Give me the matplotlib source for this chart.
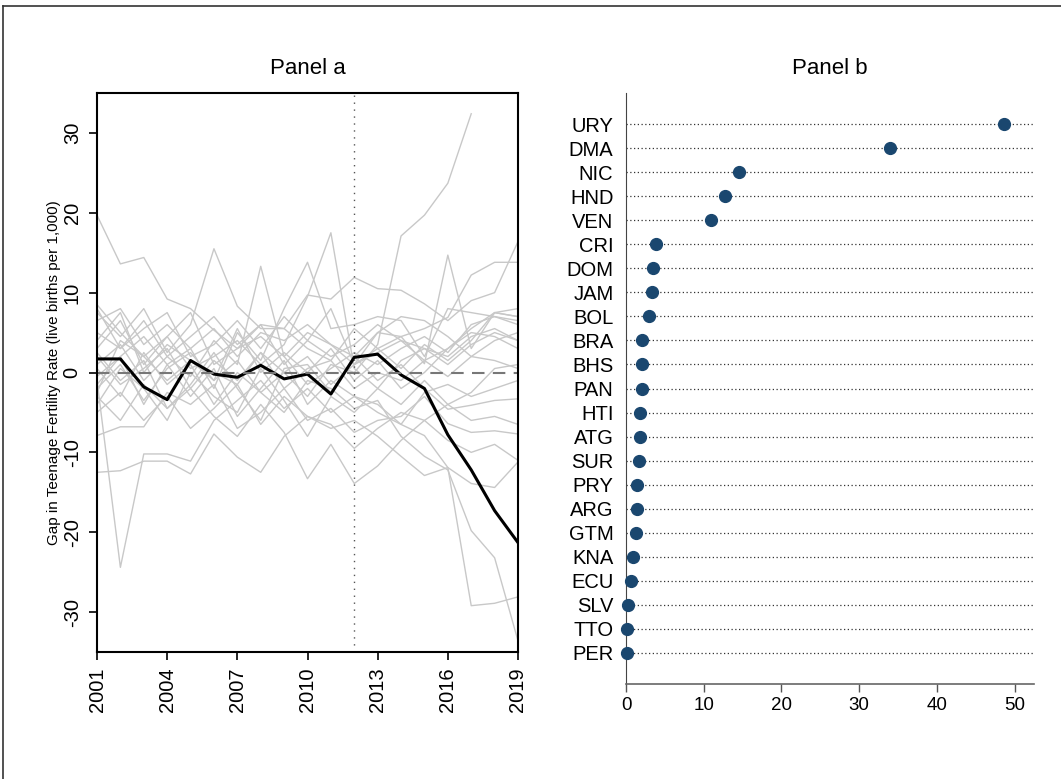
import numpy as np
import matplotlib
matplotlib.use('Agg')
import matplotlib.pyplot as plt
from matplotlib.lines import Line2D

plt.rcParams['font.family'] = ['Liberation Sans', 'DejaVu Sans']

nan = np.nan
years = list(range(2001, 2020))

# gap del pais tratado (URY)
uru_gap = [1.7, 1.7, -1.8, -3.4, 1.5, -0.2, -0.6, 0.9, -0.8, -0.2, -2.7, 1.9, 2.3, -0.3, -2.0, -7.8, -12.2, -17.3, -21.3]

# placebos
placebo_gaps = [
    [19.7, 13.6, 14.4, 9.2, 8.0, 5.3, 3.0, 4.5, 2.0, 5.0, 3.5, 1.0, 2.5, 4.0, 1.5, 3.0, 5.5, 7.5, 7.0],
    [5.0, 3.0, 6.5, 2.0, 4.5, 7.0, 3.5, 6.0, 5.5, 9.7, 9.2, 11.9, 10.5, 10.3, 8.6, 6.5, 9.0, 10.0, 16.4],
    [2.0, -1.5, 0.5, 3.0, -2.0, 1.5, -1.0, 2.5, 0.0, -3.0, 1.0, 0.0, 3.5, 17.1, 19.7, 23.7, 32.4, nan, nan],
    [-1.0, -24.4, -10.2, -10.2, -11.1, -6.0, -3.5, -1.0, -4.5, -2.0, -5.0, -3.0, -4.0, -6.5, -2.5, -1.5, -3.0, -2.0, -1.0],
    [-12.5, -12.3, -11.1, -11.1, -12.7, -7.7, -10.6, -12.5, -8.0, -5.5, -6.5, -9.5, -7.0, -5.0, -6.0, -8.5, -10.0, -9.0, -11.0],
    [3.0, 6.5, 1.0, 4.5, 0.5, 2.0, 4.0, 1.0, 3.5, 9.5, 17.5, 0.5, -2.0, 1.5, 3.0, 2.0, 4.5, 5.5, 4.0],
    [-2.0, 1.0, -3.5, 0.5, 2.5, -1.0, 1.5, -2.5, 0.0, 2.0, -1.5, 1.0, 3.0, 4.5, 1.1, 14.7, 3.0, 7.5, 8.0],
    [6.5, 8.0, 3.5, 6.0, 3.0, 5.5, 2.0, 5.0, 4.0, 6.0, 3.5, 2.0, 5.0, 4.5, 5.5, 6.9, 12.2, 13.8, 13.8],
    [-1.5, 2.0, -4.0, 1.0, -3.0, 0.5, -5.5, -2.0, 1.5, -4.0, -1.0, -3.0, -5.0, -6.5, -7.9, -11.9, -29.2, -28.9, -28.1],
    [0.5, -3.0, 2.5, -1.5, 1.0, -4.0, 0.0, -2.5, -5.0, -1.0, -2.0, -4.5, -3.5, -8.0, -10.5, -12.2, -19.8, -23.2, -33.6],
    [-5.0, -2.5, -6.0, -3.0, -7.0, -4.5, -1.5, -6.5, -3.0, -5.5, -7.0, -6.0, -8.0, -10.5, -12.9, -11.9, -13.9, -14.4, -11.2],
    [-3.0, -6.0, -1.5, -4.5, -2.0, -5.5, -8.0, -4.0, -7.5, -13.3, -9.0, -13.9, -11.7, -8.5, -6.0, -4.0, -2.5, 0.5, 1.0],
    [7.5, 4.5, 8.0, 2.5, 6.0, 15.5, 8.3, 5.5, 5.5, 3.0, 1.5, 5.5, 3.0, 0.5, 3.5, 1.5, 4.0, 7.5, 7.0],
    [1.0, 3.5, -1.0, 2.0, -0.5, 4.0, 1.0, 13.3, 2.0, -1.5, 0.5, 2.5, 1.0, 3.0, 4.5, 2.5, 6.0, 7.0, 6.5],
    [-0.5, 2.0, 4.5, 1.0, 3.0, -2.0, 5.0, 1.5, 8.0, 13.8, 5.5, 6.0, 7.0, 6.5, 2.0, 8.0, 7.5, 7.0, 6.0],
    [4.0, 7.5, 0.0, 3.5, 1.5, -1.0, 5.5, 0.0, 2.5, 0.0, 3.0, -1.0, 1.5, -2.0, 0.0, 3.0, 5.0, 4.5, 3.0],
    [-4.0, 0.5, -2.0, -6.0, 0.0, -3.0, -5.0, 0.5, -3.5, -8.0, -3.0, -5.0, -2.0, -4.0, -1.0, -4.0, -6.0, -5.5, -6.5],
    [8.0, 3.0, 5.5, 7.5, 2.0, 3.5, 6.5, 3.0, 7.0, 4.0, 8.0, 1.0, 5.0, 7.0, 6.5, 4.5, 2.0, 1.5, 0.5],
    [-7.9, -6.8, -6.8, -2.5, -4.0, -1.5, -7.0, -5.0, -2.0, -6.0, -4.5, -7.5, -6.0, -5.5, -3.0, -6.4, -7.5, -7.3, -7.7],
    [2.5, -1.0, 1.5, -4.5, -1.5, 2.5, -2.0, -6.0, 0.5, 1.0, -2.5, 2.0, -1.0, 1.0, -2.0, -4.6, -4.1, -3.5, -3.3],
    [8.5, 5.0, 2.0, 4.5, 7.5, 1.0, 3.0, 6.0, 1.0, 4.0, 2.0, 3.5, 6.0, 4.0, 3.0, 1.0, 3.5, 5.0, 4.0],
    [-2.5, 4.0, 2.0, -1.0, 1.5, 0.0, -1.5, 2.5, -2.0, 0.5, 1.5, -2.0, 0.0, -1.0, 1.5, -0.5, 2.0, 4.0, 5.0],
]

# panel b: ratio post/pre
countries = ['URY', 'DMA', 'NIC', 'HND', 'VEN', 'CRI', 'DOM', 'JAM', 'BOL', 'BRA', 'BHS', 'PAN',
             'HTI', 'ATG', 'SUR', 'PRY', 'ARG', 'GTM', 'KNA', 'ECU', 'SLV', 'TTO', 'PER']
ratios = [48.6, 34.0, 14.5, 12.8, 10.9, 3.8, 3.5, 3.35, 2.9, 2.1, 2.0, 2.0,
          1.75, 1.75, 1.7, 1.4, 1.4, 1.35, 0.9, 0.6, 0.26, 0.13, 0.08]

fig = plt.figure(figsize=(10.61, 7.79), dpi=100)

# marco de la figura
fig.add_artist(Line2D([3/1061, 1.0], [1-6/779, 1-6/779], color='#333333', lw=1.2))
fig.add_artist(Line2D([3/1061, 3/1061], [0.0, 1-6/779], color='#333333', lw=1.2))

# ---------------- Panel a
ax1 = fig.add_axes([97/1061, 1-652/779, 421/1061, 559/779])
for g in placebo_gaps:
    ax1.plot(years, g, color='#c8c8c8', lw=1.0)
ax1.plot(years, uru_gap, color='black', lw=2.2)
ax1.axhline(0, color='#777777', lw=1.5, ls=(0, (6, 4)))
ax1.axvline(2012, color='#555555', lw=1.0, ls=(0, (1, 4)))
ax1.set_xlim(2001, 2019)
ax1.set_ylim(-35, 35)
ax1.set_xticks(range(2001, 2020, 3))
ax1.set_xticklabels([str(y) for y in range(2001, 2020, 3)], rotation=90)
ax1.set_yticks(range(-30, 31, 10))
ax1.set_yticklabels([str(v) for v in range(-30, 31, 10)], rotation=90, va='center')
ax1.tick_params(labelsize=14.5, length=6, width=1.2, direction='out', pad=5)
for sp in ax1.spines.values():
    sp.set_linewidth(1.5)
ax1.set_ylabel('Gap in Teenage Fertility Rate (live births per 1,000)', fontsize=11, labelpad=1)
ax1.set_title('Panel a', fontsize=16, pad=14)

# ---------------- Panel b
ax2 = fig.add_axes([626/1061, 1-684/779, 408/1061, 591/779])
pos = np.arange(len(countries))
ax2.hlines(pos, 0, 52.5, colors='#333333', lw=0.9, linestyles=(0, (1, 2)), zorder=1)
ax2.plot(ratios, pos, 'o', color='#1a476f', ms=8.5, zorder=3, clip_on=False)
ax2.set_xlim(0, 52.5)
ax2.set_ylim(len(countries) - 1 + 1.3, -1.3)
ax2.set_yticks(pos)
ax2.set_yticklabels(countries, fontsize=14.5)
ax2.set_xticks(range(0, 51, 10))
ax2.tick_params(axis='x', labelsize=13.5, length=6, width=1.0, color='#555555')
ax2.tick_params(axis='y', length=0, pad=9)
ax2.spines['top'].set_visible(False)
ax2.spines['right'].set_visible(False)
ax2.spines['left'].set_color('#444444')
ax2.spines['bottom'].set_color('#666666')
ax2.spines['bottom'].set_linewidth(1.2)
ax2.set_title('Panel b', fontsize=16, pad=14)

plt.savefig('out.png', dpi=100)
